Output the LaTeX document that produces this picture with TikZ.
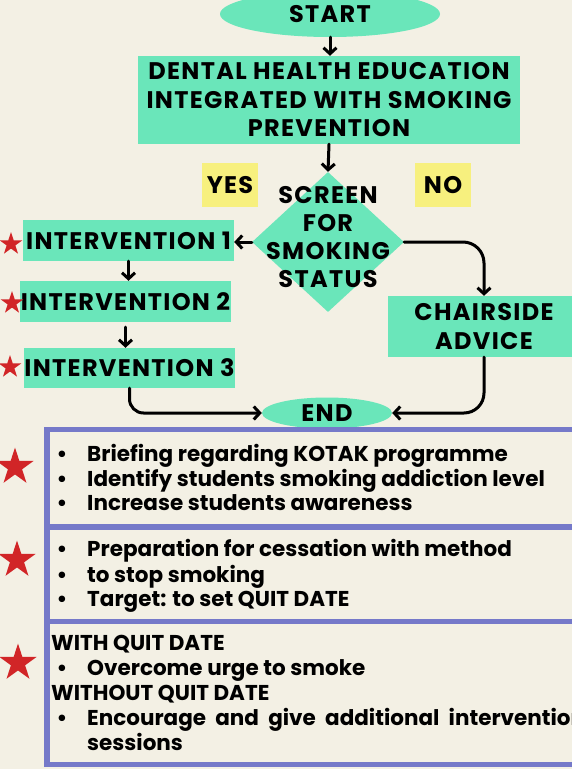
\documentclass[tikz,border=0pt]{standalone}
\usepackage{fontspec}
\setmainfont{Poppins}
\newfontfamily\hdfont{Poppins}[LetterSpace=5.5]
\usetikzlibrary{arrows.meta,shapes.geometric,calc}
\definecolor{bg}{HTML}{F3F0E4}
\definecolor{grn}{HTML}{6AE6BA}
\definecolor{yel}{HTML}{F7F07E}
\definecolor{pur}{HTML}{7579C9}
\definecolor{redstar}{HTML}{D12527}
\begin{document}
\begin{tikzpicture}[x=1pt,y=-1pt,
  hd/.style={font=\hdfont\fontsize{24}{28.5}\selectfont\bfseries, text=black},
  gbox/.style={fill=grn, draw=none, inner sep=0pt, align=center, hd},
  ybox/.style={fill=yel, draw=none, inner sep=0pt, hd, minimum width=56pt, minimum height=44pt},
  conn/.style={line width=3pt, -{Straight Barb[length=6pt,width=13pt]}, line cap=round, line join=round},
  body/.style={font=\fontsize{21.5}{25}\selectfont\bfseries, text=black, inner sep=0pt},
  rstar/.style={star, star points=5, star point ratio=2.618, fill=redstar, draw=none, inner sep=0pt},
  panel/.style={draw=pur, line width=5.5pt}
]
\fill[bg] (0,0) rectangle (572,769);
\useasboundingbox (0,0) rectangle (572,769);

% flowchart nodes
\node[gbox, ellipse, minimum width=220pt, minimum height=46pt, text height=17pt, text depth=0pt] (start) at (330,14) {START};
\node[gbox, minimum width=382pt, minimum height=88pt] (deh) at (329,100) {DENTAL HEALTH EDUCATION\\INTEGRATED WITH SMOKING\\PREVENTION};
\node[gbox, diamond, minimum width=152pt, minimum height=140pt] (scr) at (328,242) {};
\node[hd, align=center, inner sep=0pt, font=\hdfont\fontsize{24}{28}\selectfont\bfseries] (scrt) at (328,237) {SCREEN\\FOR\\SMOKING\\STATUS};
\node[ybox] (yes) at (230,185) {YES};
\node[ybox] (no) at (443,185) {NO};
\node[gbox, minimum width=211pt, minimum height=41pt] (i1) at (128.5,240.5) {INTERVENTION 1};
\node[gbox, minimum width=211pt, minimum height=41pt] (i2) at (125.5,301.5) {INTERVENTION 2};
\node[gbox, minimum width=211pt, minimum height=40pt] (i3) at (129.5,368) {INTERVENTION 3};
\node[gbox, minimum width=192pt, minimum height=61pt] (chair) at (484,326.5) {CHAIRSIDE\\ADVICE};
\node[gbox, ellipse, minimum width=130pt, minimum height=31pt, text height=17pt, text depth=0pt] (end) at (327,413) {END};

% stars
\node[rstar, minimum size=24pt] (s1) at (11,244) {};
\node[rstar, minimum size=24pt] (s2) at (12,303) {};
\node[rstar, minimum size=24pt] (s3) at (10,367) {};
\node[rstar, minimum size=39pt] (s4) at (15,467) {};
\node[rstar, minimum size=39pt] (s5) at (17,560) {};
\node[rstar, minimum size=39pt] (s6) at (18,663) {};

% connectors
\draw[conn] (start.south) -- (start.south |- deh.north);
\draw[conn] (deh.south) -- (scr.north);
\draw[conn] (scr.west) -- (scr.west -| i1.east);
\draw[conn] (i1.south) -- (i1.south |- i2.north);
\draw[conn, shorten <=5pt] (i2.south) -- (i2.south |- i3.north);
\draw[conn, rounded corners=21pt] (scr.east) -| (chair.north);
\draw[conn, rounded corners=20pt] (chair.south) |- (end.east);
\draw[conn, rounded corners=14pt] (i3.south) |- (end.west);

% panel
\draw[panel] (47,429.5) rectangle (600,764.5);
\draw[panel] (47,527) -- (600,527);
\draw[panel] (47,621.5) -- (600,621.5);

% panel text
\foreach \yy in {461.5,486,510.5,556.5,582,606.5,675,725}
  \node[body, anchor=base] at (62,\yy) {•};
\node[body, anchor=base west] (t1) at (87,461.5) {Briefing regarding KOTAK programme};
\node[body, anchor=base west] (t2) at (87,486) {Identify students smoking addiction level};
\node[body, anchor=base west] (t3) at (87,510.5) {Increase students awareness};
\node[body, anchor=base west] (t4) at (87,556.5) {Preparation for cessation with method};
\node[body, anchor=base west] (t5) at (87,582) {to stop smoking};
\node[body, anchor=base west] (t6) at (87,606.5) {Target: to set QUIT DATE};
\node[body, anchor=base west] (t7) at (51,650.5) {WITH QUIT DATE};
\node[body, anchor=base west] (t8) at (87,675) {Overcome urge to smoke};
\node[body, anchor=base west] (t9) at (51,700) {WITHOUT QUIT DATE};
\node[body, anchor=base west] (t10) at (87,725) {\makebox[498pt][s]{Encourage and give additional intervention}};
\node[body, anchor=base west] (t11) at (87,750) {sessions};
\end{tikzpicture}
\end{document}
